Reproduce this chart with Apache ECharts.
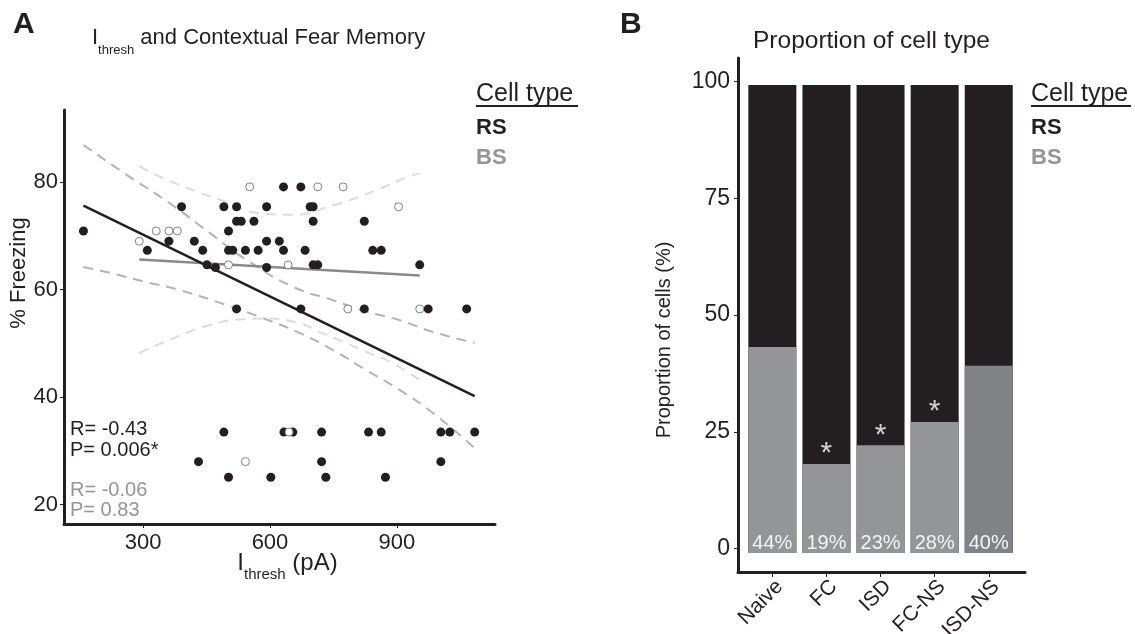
<!DOCTYPE html>
<html>
<head>
<meta charset="utf-8">
<title>Ithresh and cell type</title>
<script src="https://cdn.jsdelivr.net/npm/echarts@6/dist/echarts.min.js"></script>
<style>
	html, body { margin: 0; padding: 0; background: #fff; }
	#chart { width: 1135px; height: 634px; }
</style>
</head>
<body>
<div id="chart"></div>
<script>
// ---- Panel A: Ithresh (pA) vs % freezing, one point per cell ----
const rsCells = [
	[159, 70.9], [310, 67.3], [361, 69.0], [391, 75.4], [421, 69.0], [441, 67.3], [451, 64.6], [471, 64.1],
	[491, 75.4], [502, 70.9], [502, 67.3], [512, 67.3], [521, 75.4], [521, 72.7], [532, 72.7], [542, 67.3],
	[562, 72.7], [572, 67.3], [592, 75.4], [592, 69.0], [592, 64.1], [622, 69.0], [632, 79.1], [632, 67.3],
	[673, 79.1], [683, 67.3], [695, 75.4], [702, 75.4], [702, 72.7], [702, 64.6], [713, 64.6],
	[823, 72.7], [843, 67.3], [863, 67.3], [954, 64.6],
	[521, 56.4], [673, 56.4], [823, 56.4], [974, 56.4], [1065, 56.4],
	[491, 33.5], [633, 33.5], [654, 33.5], [722, 33.5], [833, 33.5], [863, 33.5], [1004, 33.5], [1025, 33.5], [1084, 33.5],
	[431, 28.0], [722, 28.0], [1004, 28.0],
	[502, 25.1], [602, 25.1], [732, 25.1], [873, 25.1]
]
const bsCells = [
	[291, 69.0], [331, 70.9], [361, 70.9], [381, 70.9], [502, 64.6], [552, 79.1], [643, 64.6],
	[645, 33.5], [542, 28.0], [713, 79.1], [773, 79.1], [784, 56.4], [904, 75.4], [954, 56.4]
]
// fitted lines and 95% bands
const rsFit = [[159, 75.6], [1084, 40.2]]
const bsFit = [[291, 65.6], [954, 62.6]]
const rsUpper = [[159, 86.9], [262, 81.3], [364, 76.0], [458, 70.5], [545, 65.5], [655, 60.5], [750, 58.0], [828, 55.9], [907, 54.3], [986, 52.1], [1084, 50.1]]
const rsLower = [[159, 64.2], [222, 63.1], [301, 61.5], [387, 59.9], [498, 57.1], [576, 54.9], [671, 51.9], [750, 48.7], [828, 45.0], [907, 41.3], [986, 37.0], [1084, 30.5]]
const bsUpper = [[291, 83.0], [331, 81.3], [418, 78.5], [482, 76.7], [576, 74.2], [654, 73.9], [750, 75.7], [806, 77.1], [861, 78.8], [924, 80.9], [954, 81.6]]
const bsLower = [[291, 48.2], [379, 51.2], [458, 53.4], [537, 54.5], [592, 54.6], [671, 53.7], [718, 52.1], [773, 50.3], [828, 48.4], [883, 46.6], [954, 43.2]]
const xTicksA = [300, 600, 900]
const yTicksA = [20, 40, 60, 80]

// ---- Panel B: proportion of cell type per group ----
const groups = ['Naive', 'FC', 'ISD', 'FC-NS', 'ISD-NS']
const bsPct = [44, 19, 23, 28, 40]
const rsPct = [56, 81, 77, 72, 60]
const significant = [false, true, true, true, false]
const yTicksB = [0, 25, 50, 75, 100]

const DARK = '#231f20'
const GREY = '#939598'
const FONT = '"Liberation Sans", Arial, sans-serif'

const chart = echarts.init(document.getElementById('chart'))

const bandLine = (data, color) => ({
	type: 'line',
	xAxisIndex: 0,
	yAxisIndex: 0,
	data: data,
	smooth: true,
	symbol: 'none',
	silent: true,
	lineStyle: { color: color, width: 2, type: [10, 7] },
	z: 2
})

const axisCommon = {
	axisLine: { onZero: false, lineStyle: { color: DARK, width: 3 } },
	axisTick: { lineStyle: { color: DARK, width: 1 }, length: 4 },
	splitLine: { show: false }
}

// subscript rich styles for "I thresh"
const subRich = (big, small) => ({
	i: { fontSize: big, lineHeight: 38, fontWeight: 'normal', color: DARK, fontFamily: FONT },
	s: { fontSize: small, lineHeight: small, verticalAlign: 'bottom', fontWeight: 'normal', color: DARK, fontFamily: FONT },
	t: { fontSize: big, lineHeight: 38, fontWeight: 'normal', color: DARK, fontFamily: FONT }
})

const option = {
	animation: false,
	textStyle: { fontFamily: FONT, color: DARK },
	title: [
		{ text: 'A', left: 13, top: 10, padding: 0, textStyle: { fontSize: 30, fontWeight: 'bold', color: DARK, fontFamily: FONT } },
		{ text: 'B', left: 620, top: 10, padding: 0, textStyle: { fontSize: 30, fontWeight: 'bold', color: DARK, fontFamily: FONT } },
		{
			text: '{i|I}{s|thresh}{t| and Contextual Fear Memory}',
			left: 92, top: 19, padding: 0,
			textStyle: { fontWeight: 'normal', rich: subRich(22, 13) }
		},
		{ text: 'Proportion of cell type', left: 753, top: 29, padding: 0, textStyle: { fontSize: 24.5, fontWeight: 'normal', color: DARK, fontFamily: FONT } }
	],
	legend: [
		{
			orient: 'vertical', left: 466, top: 112, icon: 'none', itemWidth: 0, itemGap: 8, selectedMode: false,
			textStyle: { fontSize: 22, fontWeight: 'bold', fontFamily: FONT },
			data: [{ name: 'RS', textStyle: { color: DARK } }, { name: 'BS', textStyle: { color: GREY } }]
		},
		{
			orient: 'vertical', left: 1021, top: 112, icon: 'none', itemWidth: 0, itemGap: 8, selectedMode: false,
			textStyle: { fontSize: 22, fontWeight: 'bold', fontFamily: FONT },
			data: [{ name: 'RS', textStyle: { color: DARK } }, { name: 'BS', textStyle: { color: GREY } }]
		}
	],
	graphic: [
		{ type: 'text', left: 476, top: 82, style: { text: 'Cell type', font: '25px ' + FONT, fill: DARK } },
		{ type: 'rect', left: 476, top: 105, shape: { width: 102, height: 2 }, style: { fill: DARK } },
		{ type: 'text', left: 1031, top: 82, style: { text: 'Cell type', font: '25px ' + FONT, fill: DARK } },
		{ type: 'rect', left: 1031, top: 105, shape: { width: 100, height: 2 }, style: { fill: DARK } },
		{ type: 'text', left: 70, top: 419, style: { text: 'R= -0.43', font: '20px ' + FONT, fill: DARK } },
		{ type: 'text', left: 70, top: 440, style: { text: 'P= 0.006*', font: '20px ' + FONT, fill: DARK } },
		{ type: 'text', left: 70, top: 480, style: { text: 'R= -0.06', font: '20px ' + FONT, fill: GREY } },
		{ type: 'text', left: 70, top: 500, style: { text: 'P= 0.83', font: '20px ' + FONT, fill: GREY } }
	],
	grid: [
		{ left: 64, top: 110, width: 431, height: 414, outerBoundsMode: 'none' },
		{ left: 738, top: 58, width: 287, height: 514, outerBoundsMode: 'none' }
	],
	xAxis: [
		{
			...axisCommon,
			gridIndex: 0, type: 'value', min: 113, max: 1132,
			axisTick: { ...axisCommon.axisTick, customValues: xTicksA },
			axisLabel: { customValues: xTicksA, fontSize: 22, color: DARK, margin: 8 },
			name: '{i|I}{s|thresh}{t| (pA)}', nameLocation: 'middle', nameGap: 20, nameMoveOverlap: false,
			nameTextStyle: { rich: subRich(24, 15), padding: [0, 0, 0, 16] }
		},
		{
			...axisCommon,
			gridIndex: 1, type: 'value', min: -0.635, max: 4.67,
			axisTick: { ...axisCommon.axisTick, length: 5, customValues: [0, 1, 2, 3, 4] },
			axisLabel: {
				customValues: [0, 1, 2, 3, 4], rotate: 45, fontSize: 21, color: DARK, margin: 4,
				verticalAlign: 'top',
				formatter: (v) => groups[v]
			}
		}
	],
	yAxis: [
		{
			...axisCommon,
			gridIndex: 0, type: 'value', min: 16.4, max: 93.4,
			axisTick: { ...axisCommon.axisTick, customValues: yTicksA },
			axisLabel: { customValues: yTicksA, fontSize: 22, color: DARK, margin: 6 },
			name: '% Freezing', nameLocation: 'middle', nameGap: 29,
			nameTextStyle: { fontSize: 22, color: DARK, padding: [0, 0, 0, 88] }
		},
		{
			...axisCommon,
			gridIndex: 1, type: 'value', min: -5.02, max: 105.08,
			axisTick: { ...axisCommon.axisTick, customValues: yTicksB },
			axisLabel: { customValues: yTicksB, fontSize: 23, color: DARK, margin: 8 },
			name: 'Proportion of cells (%)', nameLocation: 'middle', nameGap: 64,
			nameTextStyle: { fontSize: 20, color: DARK, padding: [0, 50, 0, 0] }
		},
		// bars sit a few pixels below the printed ticks in the figure
		{ gridIndex: 1, type: 'value', min: -4.06, max: 105.77, show: false }
	],
	series: [
		bandLine(bsUpper, '#dcdcdc'),
		bandLine(bsLower, '#dcdcdc'),
		bandLine(rsUpper, '#b4b4b4'),
		bandLine(rsLower, '#b4b4b4'),
		{
			name: 'BS fit', type: 'line', xAxisIndex: 0, yAxisIndex: 0, data: bsFit,
			symbol: 'none', silent: true, lineStyle: { color: '#8a8a8a', width: 2.5 }, z: 3
		},
		{
			name: 'RS fit', type: 'line', xAxisIndex: 0, yAxisIndex: 0, data: rsFit,
			symbol: 'none', silent: true, lineStyle: { color: DARK, width: 2.5 }, z: 3
		},
		{
			name: 'RS', type: 'scatter', xAxisIndex: 0, yAxisIndex: 0, data: rsCells,
			symbolSize: 9, itemStyle: { color: DARK, opacity: 1 }, z: 4
		},
		{
			name: 'BS', type: 'scatter', xAxisIndex: 0, yAxisIndex: 0, data: bsCells,
			symbolSize: 8, itemStyle: { color: '#fff', borderColor: '#808080', borderWidth: 1, opacity: 1 }, z: 5
		},
		// RS drawn as the full column (RS + BS), BS overlaid from the bottom
		{
			name: 'RS', type: 'bar', xAxisIndex: 1, yAxisIndex: 2, barWidth: 48, barGap: '-100%',
			data: rsPct.map((v, i) => [i, v + bsPct[i]]),
			itemStyle: { color: DARK }
		},
		{
			name: 'BS', type: 'bar', xAxisIndex: 1, yAxisIndex: 2, barWidth: 48, barGap: '-100%',
			data: bsPct.map((v, i) => ({ value: [i, v], itemStyle: { color: i === 4 ? '#818285' : GREY } })),
			label: {
				show: true, position: 'insideBottom', distance: 0, formatter: (p) => p.value[1] + '%',
				color: '#f4f4f4', fontSize: 20, fontFamily: FONT
			}
		},
		{
			name: 'signif', type: 'scatter', xAxisIndex: 1, yAxisIndex: 2, symbolSize: 0, silent: true, z: 5,
			data: bsPct.map((v, i) => [i, v]).filter((d, i) => significant[i]),
			label: { show: true, position: 'inside', offset: [0, -10], formatter: '*', color: '#fff', fontSize: 30, fontFamily: FONT }
		}
	]
}

chart.setOption(option)
</script>
</body>
</html>
